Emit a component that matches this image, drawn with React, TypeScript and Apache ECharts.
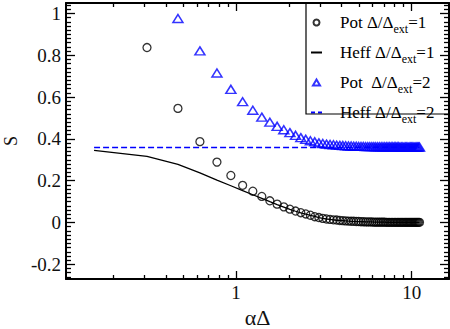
import React, { useEffect, useRef } from 'react';
import * as echarts from 'echarts';

// αΔ sampling grid shared by all four curves
const alphaDelta = [
  0.156, 0.312, 0.468, 0.624, 0.78, 0.936, 1.092, 1.248, 1.404, 1.56,
  1.716, 1.872, 2.028, 2.184, 2.34, 2.496, 2.652, 2.808, 2.964, 3.12,
  3.276, 3.432, 3.588, 3.744, 3.9, 4.056, 4.212, 4.368, 4.524, 4.68,
  4.836, 4.992, 5.148, 5.304, 5.46, 5.616, 5.772, 5.928, 6.084, 6.24,
  6.396, 6.552, 6.708, 6.864, 7.02, 7.176, 7.332, 7.488, 7.644, 7.8,
  7.956, 8.112, 8.268, 8.424, 8.58, 8.736, 8.892, 9.048, 9.204, 9.36,
  9.516, 9.672, 9.828, 9.984, 10.14, 10.296, 10.452, 10.608, 10.764, 10.92,
  11.076,
];

// Heff, Δ/Δext = 1 (solid line), from the first grid point
const heffRatio1 = [
  0.345, 0.316, 0.278, 0.238, 0.203, 0.176, 0.153, 0.133, 0.116, 0.100,
  0.086, 0.074, 0.063, 0.054, 0.046, 0.040, 0.034, 0.029, 0.024, 0.020,
  0.017, 0.015, 0.013, 0.011, 0.010, 0.009, 0.008, 0.007, 0.006, 0.005,
  0.005, 0.004, 0.004, 0.004, 0.003, 0.003, 0.003, 0.003, 0.002, 0.002,
  0.002, 0.002, 0.002, 0.002, 0.002, 0.001, 0.001, 0.001, 0.001, 0.001,
  0.001, 0.001, 0.001, 0.001, 0.001, 0.001, 0.001, 0.001, 0.001, 0.001,
  0.001, 0.001, 0.001, 0.001, 0.001, 0.001, 0.001, 0.001, 0.001, 0.001,
  0.001,
];

// Pot, Δ/Δext = 1 (circles), from the second grid point
const potRatio1 = [
  0.837, 0.546, 0.387, 0.289, 0.225, 0.178, 0.150, 0.125, 0.104, 0.088,
  0.075, 0.064, 0.055, 0.047, 0.041, 0.035, 0.028, 0.024, 0.020, 0.017,
  0.015, 0.013, 0.012, 0.010, 0.009, 0.008, 0.007, 0.006, 0.006, 0.005,
  0.005, 0.004, 0.004, 0.003, 0.003, 0.003, 0.003, 0.002, 0.002, 0.002,
  0.002, 0.002, 0.002, 0.002, 0.001, 0.001, 0.001, 0.001, 0.001, 0.001,
  0.001, 0.001, 0.001, 0.001, 0.001, 0.001, 0.001, 0.001, 0.001, 0.001,
  0.001, 0.001, 0.001, 0.001, 0.001, 0.001, 0.001, 0.001, 0.001, 0.001,
];

// Pot, Δ/Δext = 2 (triangles), from the third grid point
const potRatio2 = [
  0.976, 0.821, 0.715, 0.637, 0.578, 0.537, 0.504, 0.480, 0.460, 0.444,
  0.430, 0.417, 0.406, 0.398, 0.391, 0.386, 0.381, 0.378, 0.375, 0.373,
  0.372, 0.370, 0.369, 0.368, 0.367, 0.366, 0.366, 0.365, 0.365, 0.364,
  0.364, 0.364, 0.363, 0.363, 0.363, 0.363, 0.363, 0.362, 0.362, 0.362,
  0.362, 0.362, 0.362, 0.362, 0.362, 0.362, 0.362, 0.362, 0.362, 0.362,
  0.362, 0.362, 0.361, 0.361, 0.361, 0.361, 0.361, 0.361, 0.361, 0.361,
  0.361, 0.361, 0.361, 0.361, 0.361, 0.361, 0.361, 0.361, 0.361,
];

// Heff, Δ/Δext = 2 (dashed line), from the first grid point
const heffRatio2 = [
  0.359, 0.359, 0.359, 0.359, 0.359, 0.359, 0.359, 0.359, 0.359, 0.359,
  0.359, 0.359, 0.359, 0.359, 0.359, 0.359, 0.359, 0.359, 0.359, 0.359,
  0.359, 0.359, 0.359, 0.359, 0.359, 0.359, 0.359, 0.359, 0.359, 0.359,
  0.360, 0.360, 0.360, 0.360, 0.360, 0.360, 0.360, 0.360, 0.360, 0.360,
  0.360, 0.360, 0.360, 0.360, 0.360, 0.360, 0.360, 0.360, 0.360, 0.360,
  0.360, 0.360, 0.360, 0.360, 0.360, 0.360, 0.360, 0.360, 0.360, 0.360,
  0.360, 0.360, 0.360, 0.360, 0.360, 0.360, 0.360, 0.360, 0.360, 0.360,
  0.360,
];

const seriesNames = ['Pot Δ/Δext=1', 'Heff Δ/Δext=1', 'Pot  Δ/Δext=2', 'Heff Δ/Δext=2'];

const yTickLabels = [-0.2, 0, 0.2, 0.4, 0.6, 0.8, 1];
const xTickLabels = [1, 10];
const xMinorTicks = [0.2, 0.3, 0.4, 0.5, 0.6, 0.7, 0.8, 0.9, 2, 3, 4, 5, 6, 7, 8, 9];

const X_MIN = 0.108;
const X_MAX = 16.3;
const Y_MIN = -0.27;
const Y_MAX = 1.05;

const SERIF = 'Liberation Serif';
const BLUE = '#0000ff';

const yMinorTicks: number[] = [];
for (let k = -13; k <= 52; k++) {
  if (k % 10 !== 0) yMinorTicks.push(Math.round(k * 2) / 100);
}

const zip = (xs: number[], ys: number[]) => ys.map((y, i) => [xs[i], y]);

function makeYAxis(position: 'left' | 'right', ticks: number[], len: number, main: boolean, labels: boolean) {
  return {
    type: 'value',
    position,
    min: Y_MIN,
    max: Y_MAX,
    splitLine: { show: false },
    axisLine: { show: main, onZero: false, lineStyle: { color: '#000', width: 2 } },
    axisTick: { show: true, inside: true, length: len, customValues: ticks, lineStyle: { color: '#000', width: 1.3 } },
    axisLabel: labels
      ? {
          show: true,
          customValues: yTickLabels,
          margin: 5,
          color: '#111',
          fontFamily: SERIF,
          fontSize: 19,
          formatter: (v: number) => String(Math.round(v * 10) / 10),
        }
      : { show: false },
    name: labels ? 'S' : '',
    nameLocation: 'middle',
    nameGap: 45,
    nameTextStyle: { color: '#111', fontFamily: SERIF, fontSize: 18 },
  };
}

function makeXAxis(position: 'bottom' | 'top', ticks: number[], len: number, main: boolean, labels: boolean) {
  return {
    type: 'log',
    logBase: 10,
    position,
    min: X_MIN,
    max: X_MAX,
    splitLine: { show: false },
    minorTick: { show: false },
    axisLine: { show: main, onZero: false, lineStyle: { color: '#000', width: 2 } },
    axisTick: { show: true, inside: true, length: len, customValues: ticks, lineStyle: { color: '#000', width: 1.3 } },
    axisLabel: labels
      ? {
          show: true,
          customValues: xTickLabels,
          margin: 4,
          color: '#111',
          fontFamily: SERIF,
          fontSize: 19,
          formatter: (v: number) => String(Math.round(v)),
        }
      : { show: false },
    name: labels ? 'αΔ' : '',
    nameLocation: 'middle',
    nameGap: 22,
    nameTextStyle: { color: '#111', fontFamily: SERIF, fontSize: 22 },
  };
}

export default function App() {
  const ref = useRef<HTMLDivElement>(null);

  useEffect(() => {
    if (!ref.current) return;
    const chart = echarts.init(ref.current, undefined, { renderer: 'svg' });

    const hideDot = { opacity: 0 };

    const option = {
      animation: false,
      backgroundColor: '#fff',
      textStyle: { fontFamily: SERIF },
      grid: { left: 66, right: 1, top: 3, bottom: 50, containLabel: false, outerBoundsMode: 'none' },
      xAxis: [
        makeXAxis('bottom', xTickLabels, 8, true, true),
        makeXAxis('bottom', xMinorTicks, 4, false, false),
        makeXAxis('top', xTickLabels, 8, true, false),
        makeXAxis('top', xMinorTicks, 4, false, false),
      ],
      yAxis: [
        makeYAxis('left', yTickLabels, 9, true, true),
        makeYAxis('left', yMinorTicks, 5, false, false),
        makeYAxis('right', yTickLabels, 9, true, false),
        makeYAxis('right', yMinorTicks, 5, false, false),
      ],
      legend: {
        orient: 'vertical',
        left: 306,
        top: 3,
        padding: [7, 0, 0, 4],
        itemWidth: 11,
        itemHeight: 6,
        itemGap: 5,
        symbolKeepAspect: true,
        data: [
          { name: seriesNames[0] },
          { name: seriesNames[1], itemStyle: hideDot },
          { name: seriesNames[2], icon: 'path://M5,0L10,8.5L0,8.5Z' },
          { name: seriesNames[3], itemStyle: hideDot, lineStyle: { type: [4, 3] } },
        ],
        formatter: (name: string) => {
          const m = name.match(/^(.*Δ\/Δ)ext(=\d)$/);
          if (!m) return name;
          return `{b|${m[1]}}{s|ext}{a|${m[2]}}`;
        },
        textStyle: {
          color: '#000',
          fontFamily: SERIF,
          fontSize: 17,
          rich: {
            b: { color: '#000', fontFamily: SERIF, fontSize: 17, lineHeight: 22, padding: [0, 0, 0, 13] },
            a: { color: '#000', fontFamily: SERIF, fontSize: 17, lineHeight: 22 },
            s: { color: '#000', fontFamily: SERIF, fontSize: 12, lineHeight: 22, padding: [13, 0, 0, 0] },
          },
        },
      },
      graphic: [
        {
          type: 'rect',
          shape: { x: 306, y: 3, width: 143, height: 111 },
          style: { fill: 'none', stroke: '#000', lineWidth: 1.2 },
          z: 10,
          silent: true,
        },
      ],
      series: [
        {
          name: seriesNames[1],
          type: 'line',
          data: zip(alphaDelta, heffRatio1),
          symbol: 'none',
          lineStyle: { color: '#000', width: 1.3 },
          itemStyle: { color: '#000' },
          z: 2,
        },
        {
          name: seriesNames[3],
          type: 'line',
          data: zip(alphaDelta, heffRatio2),
          symbol: 'none',
          lineStyle: { color: BLUE, width: 1.5, type: [6, 3] },
          itemStyle: { color: BLUE },
          z: 2,
        },
        {
          name: seriesNames[0],
          type: 'scatter',
          data: zip(alphaDelta.slice(1), potRatio1),
          symbol: 'circle',
          symbolSize: 8,
          itemStyle: { color: 'none', borderColor: '#000', borderWidth: 1.3 },
          z: 3,
        },
        {
          name: seriesNames[2],
          type: 'scatter',
          data: zip(alphaDelta.slice(2), potRatio2),
          symbol: 'triangle',
          symbolSize: [10, 8],
          itemStyle: { color: 'none', borderColor: BLUE, borderWidth: 1.5 },
          z: 3,
        },
      ],
    };

    chart.setOption(option as any);
    return () => chart.dispose();
  }, []);

  return (
    <div
      ref={ref}
      style={{ position: 'absolute', left: 0, top: 0, width: 450, height: 329, background: '#fff' }}
    />
  );
}
